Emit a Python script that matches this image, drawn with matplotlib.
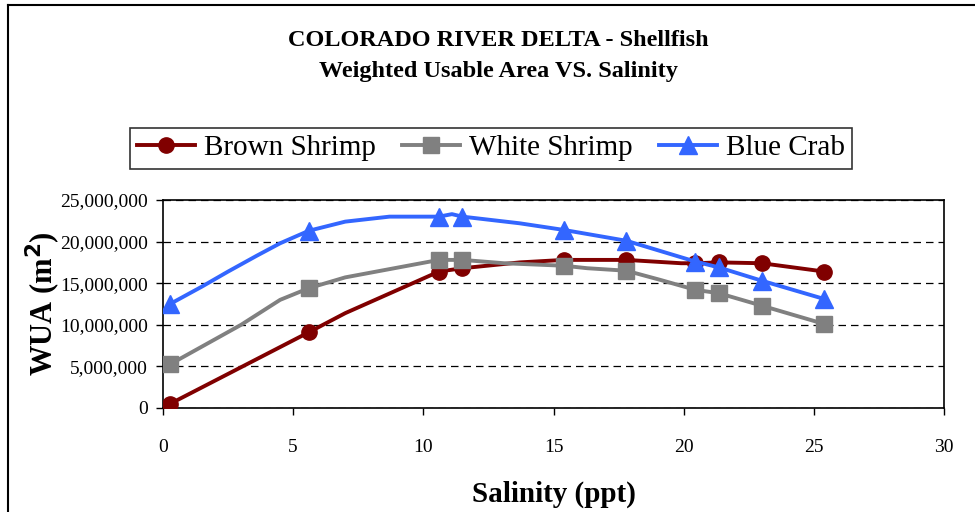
import matplotlib
matplotlib.use("Agg")
import matplotlib.pyplot as plt
from matplotlib.lines import Line2D
from matplotlib.ticker import FuncFormatter

# ------------------------------------------------------------
# Datos (WUA en millones de m2)
# ------------------------------------------------------------
brown_x = [0.27, 5.6, 7.0, 10.6, 11.5, 13.7, 15.4, 17.8, 19.9, 20.45, 21.35, 23.0, 24.2, 25.4]
brown_y = [0.5, 9.1, 11.4, 16.4, 16.8, 17.5, 17.8, 17.8, 17.4, 17.4, 17.5, 17.4, 16.9, 16.4]
brown_marks = [0, 1, 3, 4, 6, 7, 9, 10, 11, 13]

white_x = [0.27, 3.0, 4.5, 5.6, 7.0, 10.6, 11.5, 13.1, 15.4, 16.3, 17.8, 19.1,
           20.45, 21.35, 23.0, 24.2, 25.4]
white_y = [5.25, 10.0, 13.0, 14.4, 15.7, 17.8, 17.8, 17.4, 17.1, 16.8, 16.5, 15.4,
           14.2, 13.8, 12.3, 11.2, 10.1]
white_marks = [0, 3, 5, 6, 8, 10, 12, 13, 14, 16]

blue_x = [0.27, 1.5, 2.5, 3.6, 4.5, 5.6, 7.0, 8.7, 10.6, 11.1, 11.5, 13.7, 15.4, 17.8,
          20.45, 21.35, 23.0, 24.2, 25.4]
blue_y = [12.5, 14.6, 16.4, 18.3, 19.8, 21.3, 22.4, 23.0, 23.0, 23.3, 23.0, 22.2, 21.4, 20.1,
          17.6, 16.9, 15.3, 14.2, 13.1]
blue_marks = [0, 5, 8, 10, 12, 13, 14, 15, 16, 18]

series_names = ["Brown Shrimp", "White Shrimp", "Blue Crab"]
x_ticks = [0, 5, 10, 15, 20, 25, 30]
y_ticks = [0, 5, 10, 15, 20, 25]

FONT = "Liberation Serif"
plt.rcParams["font.family"] = FONT

# ------------------------------------------------------------
# Figura
# ------------------------------------------------------------
fig = plt.figure(figsize=(9.75, 5.12), dpi=100)
ax = fig.add_axes([163 / 975, 1 - 408 / 512, (944 - 163) / 975, (408 - 200) / 512])

# marco exterior del área del gráfico
fig.add_artist(Line2D([8 / 975, 1.0], [1 - 5 / 512, 1 - 5 / 512],
                      transform=fig.transFigure, color="black", lw=1.5))
fig.add_artist(Line2D([8 / 975, 8 / 975], [0.0, 1 - 5 / 512],
                      transform=fig.transFigure, color="black", lw=1.5))

m = 1e6
ax.plot(brown_x, [v * m for v in brown_y], color="#800000", lw=2.8,
        marker="o", markersize=11, markevery=brown_marks, label=series_names[0],
        zorder=3)
ax.plot(white_x, [v * m for v in white_y], color="#808080", lw=2.8,
        marker="s", markersize=11, markevery=white_marks, label=series_names[1],
        zorder=3)
ax.plot(blue_x, [v * m for v in blue_y], color="#3366FF", lw=2.8,
        marker="^", markersize=13.5, markevery=blue_marks, label=series_names[2],
        zorder=3)

ax.set_xlim(0, 30)
ax.set_ylim(0, 25 * m)
ax.set_xticks(x_ticks)
ax.set_yticks([v * m for v in y_ticks])
ax.yaxis.set_major_formatter(FuncFormatter(lambda v, p: f"{v:,.0f}"))
ax.tick_params(direction="out", length=5, width=1, labelsize=14, pad=6)
ax.tick_params(axis="x", pad=17)
for s in ax.spines.values():
    s.set_linewidth(1.2)

ax.yaxis.grid(True, linestyle=(0, (6, 4)), color="black", lw=0.9)
ax.set_axisbelow(True)

ax.set_xlabel("Salinity (ppt)", fontsize=21, fontweight="bold", labelpad=18)
ax.set_ylabel("WUA (m$^\\mathbf{2}$)", fontsize=22, fontweight="bold", labelpad=-2)

fig.text(498 / 975, 1 - 40 / 512, "COLORADO RIVER DELTA - Shellfish",
         ha="center", va="center", fontsize=17.5, fontweight="bold")
fig.text(498 / 975, 1 - 71 / 512, "Weighted Usable Area VS. Salinity",
         ha="center", va="center", fontsize=17.5, fontweight="bold")

leg = fig.legend(loc="center", bbox_to_anchor=(491 / 975, 1 - 148 / 512), ncol=3,
                 fontsize=21, frameon=True, fancybox=False, edgecolor="black",
                 handlelength=2.0, columnspacing=0.9, handletextpad=0.3,
                 borderpad=0.25)
leg.get_frame().set_linewidth(1.2)

fig.savefig("out.png", dpi=100)
